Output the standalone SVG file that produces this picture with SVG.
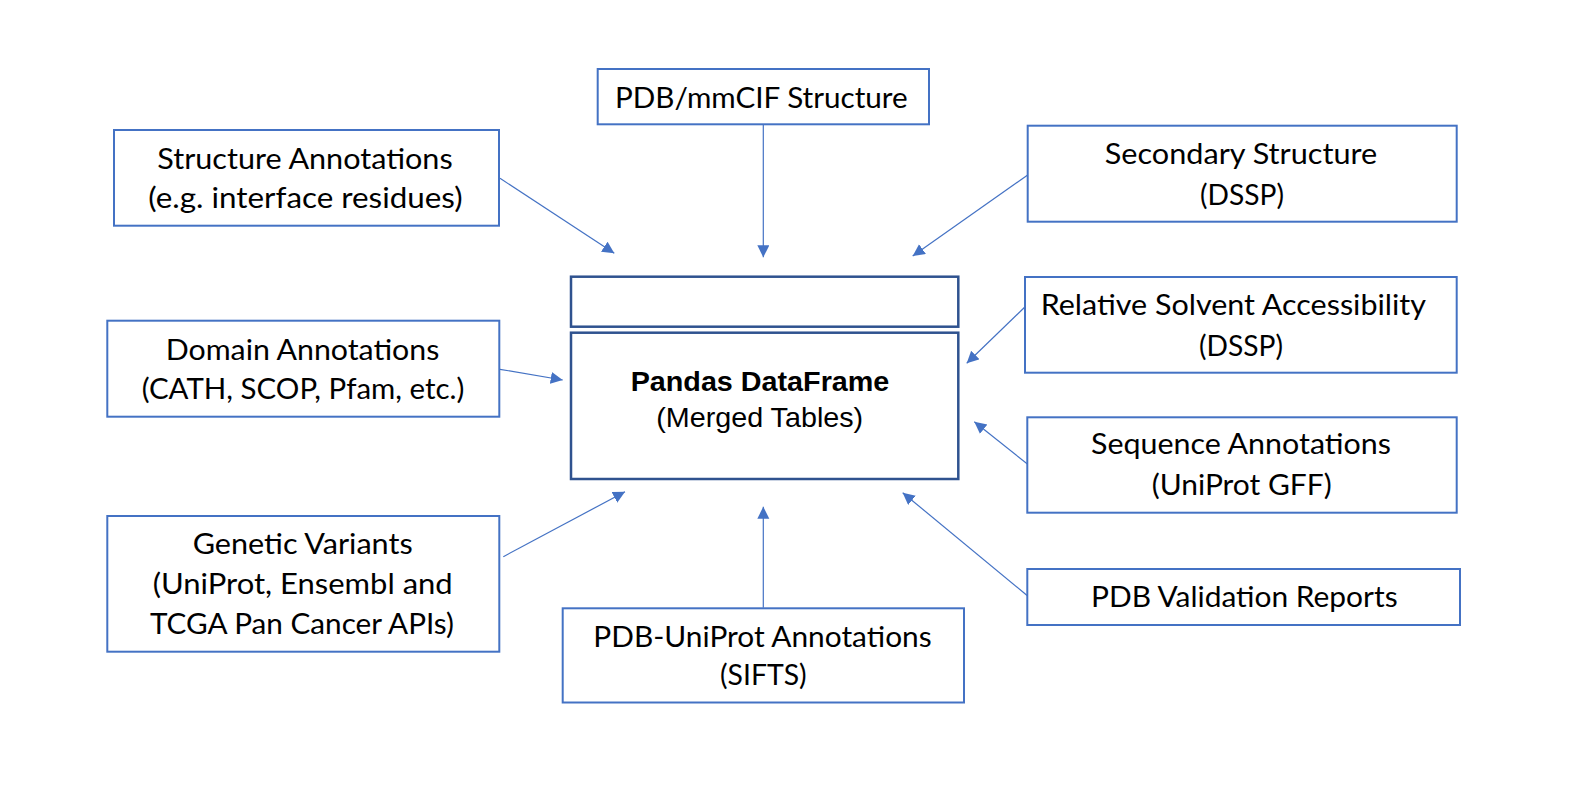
<svg xmlns="http://www.w3.org/2000/svg" width="1594" height="789" viewBox="0 0 1594 789">
<style>
.box{fill:#FFFFFF;stroke:#4472C4;stroke-width:2}
.core{fill:#FFFFFF;stroke:#2F528F;stroke-width:2.5}
.t{font-family:Lato,"Open Sans","Noto Sans",sans-serif;font-size:28px;fill:#000000;text-anchor:middle}
.m{font-family:"Liberation Sans",Arial,sans-serif;font-size:28px;fill:#000000;text-anchor:middle}
.b{font-weight:bold}
.c{stroke:#4472C4;stroke-width:1.2;fill:none;marker-end:url(#ah)}
</style>
<defs>
<marker id="ah" markerUnits="userSpaceOnUse" markerWidth="13" markerHeight="13" refX="12" refY="6" orient="auto">
<path d="M0,0 L12,6 L0,12 Z" fill="#4472C4"/>
</marker>
</defs>
<rect x="0" y="0" width="1594" height="789" fill="#FFFFFF"/>
<g id="connectors">
<line class="c" x1="500" y1="178.3" x2="614.3" y2="253.3"/>
<line class="c" x1="763.3" y1="124.3" x2="763.3" y2="257.3"/>
<line class="c" x1="1027.7" y1="175" x2="912.7" y2="256"/>
<line class="c" x1="1027.7" y1="304.3" x2="966.7" y2="363.3"/>
<line class="c" x1="500" y1="369.3" x2="562.7" y2="380"/>
<line class="c" x1="1027.7" y1="464.3" x2="974.3" y2="421.7"/>
<line class="c" x1="503.3" y1="556.7" x2="625" y2="491.7"/>
<line class="c" x1="763.3" y1="607.7" x2="763.3" y2="506.7"/>
<line class="c" x1="1027.7" y1="596" x2="902.7" y2="492.7"/>
</g>
<g id="structure-annotations">
<rect class="box" x="114" y="130" width="385" height="95.7"/>
<text class="t" x="305" y="169.3" textLength="295.3" lengthAdjust="spacingAndGlyphs">Structure Annotations</text>
<text class="t" x="305.5" y="208.3" textLength="314.3" lengthAdjust="spacingAndGlyphs">(e.g. interface residues)</text>
</g>
<g id="pdb-mmcif">
<rect class="box" x="597.7" y="69" width="331.3" height="55.3"/>
<text class="t" x="761.3" y="108.3" textLength="292.7" lengthAdjust="spacingAndGlyphs">PDB/mmCIF Structure</text>
</g>
<g id="secondary-structure">
<rect class="box" x="1027.7" y="125.7" width="429" height="96"/>
<text class="t" x="1241" y="164.3" textLength="272.3" lengthAdjust="spacingAndGlyphs">Secondary Structure</text>
<text class="t" x="1242" y="205" textLength="84" lengthAdjust="spacingAndGlyphs">(DSSP)</text>
</g>
<g id="top-box">
<rect class="core" x="571" y="276.7" width="387.3" height="50"/>
</g>
<g id="pandas-dataframe">
<rect class="core" x="571" y="332.7" width="387.3" height="146.3"/>
<text class="m b" x="760" y="391" textLength="258.7" lengthAdjust="spacingAndGlyphs">Pandas DataFrame</text>
<text class="m" x="759.7" y="426.7" textLength="207" lengthAdjust="spacingAndGlyphs">(Merged Tables)</text>
</g>
<g id="relative-solvent-accessibility">
<rect class="box" x="1025" y="277" width="431.7" height="95.7"/>
<text class="t" x="1233.3" y="315" textLength="385.3" lengthAdjust="spacingAndGlyphs">Relative Solvent Accessibility</text>
<text class="t" x="1241" y="356" textLength="84" lengthAdjust="spacingAndGlyphs">(DSSP)</text>
</g>
<g id="domain-annotations">
<rect class="box" x="107.3" y="320.7" width="392" height="96"/>
<text class="t" x="302.5" y="360" textLength="273.7" lengthAdjust="spacingAndGlyphs">Domain Annotations</text>
<text class="t" x="303" y="399.3" textLength="322.6" lengthAdjust="spacingAndGlyphs">(CATH, SCOP, Pfam, etc.)</text>
</g>
<g id="sequence-annotations">
<rect class="box" x="1027.3" y="417.3" width="429.4" height="95.4"/>
<text class="t" x="1241" y="454.3" textLength="300" lengthAdjust="spacingAndGlyphs">Sequence Annotations</text>
<text class="t" x="1241.7" y="495" textLength="180" lengthAdjust="spacingAndGlyphs">(UniProt GFF)</text>
</g>
<g id="genetic-variants">
<rect class="box" x="107.3" y="516" width="392" height="135.7"/>
<text class="t" x="302.7" y="554" textLength="220" lengthAdjust="spacingAndGlyphs">Genetic Variants</text>
<text class="t" x="302.7" y="594.3" textLength="300" lengthAdjust="spacingAndGlyphs">(UniProt, Ensembl and</text>
<text class="t" x="302" y="634.3" textLength="304" lengthAdjust="spacingAndGlyphs">TCGA Pan Cancer APIs)</text>
</g>
<g id="pdb-uniprot-annotations">
<rect class="box" x="562.7" y="608.3" width="401.3" height="94.2"/>
<text class="t" x="762.5" y="646.7" textLength="338.3" lengthAdjust="spacingAndGlyphs">PDB-UniProt Annotations</text>
<text class="t" x="763.3" y="685" textLength="86.7" lengthAdjust="spacingAndGlyphs">(SIFTS)</text>
</g>
<g id="pdb-validation-reports">
<rect class="box" x="1027.3" y="569" width="432.7" height="56"/>
<text class="t" x="1244.3" y="606.7" textLength="306.7" lengthAdjust="spacingAndGlyphs">PDB Validation Reports</text>
</g>
</svg>
